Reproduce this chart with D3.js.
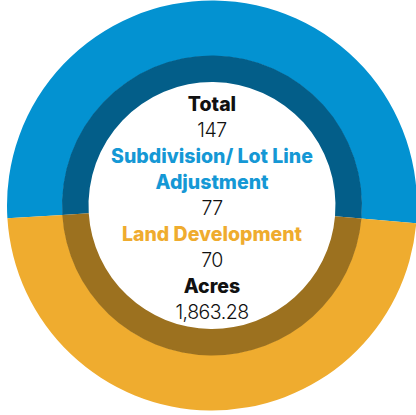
<!DOCTYPE html>
<html>
<head>
<meta charset="utf-8">
<script src="https://cdn.jsdelivr.net/npm/d3@7"></script>
<style>
  html, body { margin: 0; padding: 0; background: #fff; overflow: hidden; }
  svg { display: block; }
</style>
</head>
<body>
<svg id="chart"></svg>
<script>
// chart data
const categories = ["Subdivision/ Lot Line Adjustment", "Land Development"];
const values = [77, 70];
const outerColors = ["#0392d1", "#efac2f"];
const innerColors = ["#035e89", "#9c711f"];
const labelColors = ["#1598d5", "#efac2f"];
const totalLabel = "Total";
const acresLabel = "Acres";
const acres = 1863.28;

const width = 416, height = 415;
const cx = 212, cy = 205.5;

const svg = d3.select("#chart")
    .attr("width", width)
    .attr("height", height);

// pie layout, blue slice roughly centred on top
const pie = d3.pie()
    .sort(null)
    .startAngle(-93.6 * Math.PI / 180)
    .endAngle(266.4 * Math.PI / 180);

const arcs = pie(values);

const outerArc = d3.arc().innerRadius(149.5).outerRadius(205);
const innerArc = d3.arc().innerRadius(123.5).outerRadius(150);

const g = svg.append("g").attr("transform", `translate(${cx},${cy})`);

g.selectAll("path.outer")
    .data(arcs)
    .join("path")
    .attr("class", "outer")
    .attr("d", outerArc)
    .attr("fill", (d, i) => outerColors[i]);

g.selectAll("path.inner")
    .data(arcs)
    .join("path")
    .attr("class", "inner")
    .attr("d", innerArc)
    .attr("fill", (d, i) => innerColors[i]);

// centre text lines
const total = d3.sum(values);
const fmt = d3.format(",.2f");
const lines = [
    { text: totalLabel, bold: true, color: "#111" },
    { text: String(total), bold: false, color: "#111" },
    { text: "Subdivision/ Lot Line", bold: true, color: labelColors[0] },
    { text: "Adjustment", bold: true, color: labelColors[0] },
    { text: String(values[0]), bold: false, color: "#111" },
    { text: categories[1], bold: true, color: labelColors[1] },
    { text: String(values[1]), bold: false, color: "#111" },
    { text: acresLabel, bold: true, color: "#111" },
    { text: fmt(acres), bold: false, color: "#111" },
];

const y = d3.scaleLinear().domain([0, lines.length - 1]).range([111, 319]);

g.selectAll("text")
    .data(lines)
    .join("text")
    .attr("x", 0)
    .attr("y", (d, i) => y(i) - cy)
    .attr("text-anchor", "middle")
    .attr("font-family", "Inter, 'Noto Sans', sans-serif")
    .attr("font-size", d => d.bold ? 19.5 : 19.5)
    .attr("font-weight", d => d.bold ? 800 : 300)
    .attr("letter-spacing", d => d.bold ? "0px" : "-0.5px")
    .attr("fill", d => d.color)
    .text(d => d.text);
</script>
</body>
</html>
